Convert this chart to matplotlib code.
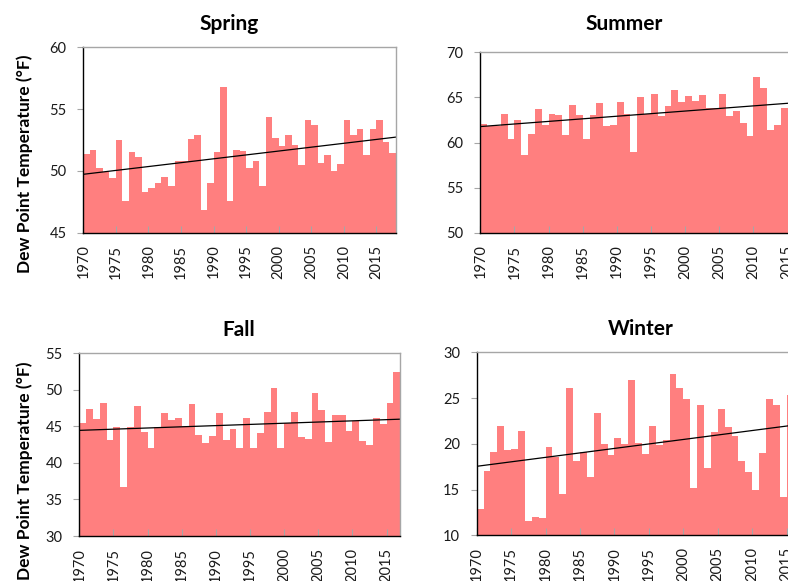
import matplotlib
matplotlib.use("Agg")
import matplotlib.pyplot as plt
import numpy as np

plt.rcParams['font.family'] = ['Lato', 'DejaVu Sans']

# seasonal dew point averages (deg F)
spring_years = list(range(1970, 2018))
spring = [51.4, 51.7, 50.2, 49.9, 49.4, 52.5, 47.6, 51.5, 51.1, 48.3,
          48.6, 49.0, 49.5, 48.75, 50.8, 50.8, 52.55, 52.9, 46.8, 49.0,
          51.5, 56.8, 47.6, 51.7, 51.6, 50.2, 50.8, 48.75, 54.4, 52.7,
          52.0, 52.9, 52.1, 50.5, 54.1, 53.7, 50.6, 51.3, 50.0, 50.55,
          54.1, 52.9, 53.4, 51.3, 53.4, 54.1, 52.3, 51.45]

summer_years = list(range(1970, 2016))
summer = [62.0, 61.8, 61.8, 63.2, 60.35, 62.45, 58.65, 60.9, 63.75, 61.95,
          63.2, 63.0, 60.85, 64.2, 63.1, 60.4, 63.1, 64.4, 61.8, 61.9,
          64.45, 63.2, 58.95, 65.05, 63.2, 65.35, 62.97, 64.08, 65.85, 64.5,
          65.15, 64.6, 65.27, 63.8, 63.8, 65.34, 62.97, 63.45, 62.2, 60.7,
          67.3, 66.05, 61.35, 61.9, 63.85, 63.75]

fall_years = list(range(1970, 2017))
fall = [45.5, 47.4, 46.0, 48.2, 43.1, 44.9, 36.7, 44.9, 47.75, 44.2,
        42.1, 44.9, 46.8, 45.9, 46.15, 45.0, 48.0, 43.8, 42.7, 43.7,
        46.8, 43.2, 44.6, 42.1, 46.1, 42.0, 44.05, 46.9, 50.3, 42.0,
        45.5, 46.9, 43.5, 43.3, 49.6, 47.25, 42.85, 46.55, 46.5, 44.4,
        45.7, 43.0, 42.5, 46.1, 45.3, 48.15, 52.5]

winter_years = list(range(1970, 2016))
winter = [12.9, 17.0, 19.1, 21.9, 19.35, 19.4, 21.4, 11.55, 11.95, 11.9,
          19.6, 18.6, 14.5, 26.1, 18.1, 19.05, 16.35, 23.35, 19.95, 18.8,
          20.65, 19.95, 27.0, 20.1, 18.85, 21.9, 19.9, 20.45, 27.6, 26.05,
          24.85, 15.2, 24.25, 17.4, 21.3, 23.8, 21.8, 20.9, 18.15, 16.95,
          14.9, 19.0, 24.85, 24.2, 14.15, 25.3]

W, H = 788.0, 581.0
bar_color = '#FF7F7F'
frame_gray = '#A6A6A6'
tick_years = list(range(1970, 2020, 5))

fig = plt.figure(figsize=(W / 100, H / 100), dpi=100)


def season_panel(left, top, right, bottom, years, vals, ylim, yticks, xmax):
    ax = fig.add_axes([left / W, 1 - bottom / H, (right - left) / W, (bottom - top) / H])
    x = np.array(years)
    y = np.array(vals)
    ax.bar(x, y - ylim[0], bottom=ylim[0], width=1.0, align='edge',
           color=bar_color, linewidth=0)
    # linear trend through the yearly values
    k, b = np.polyfit(x + 0.5, y, 1)
    xt = np.array([1970, xmax])
    ax.plot(xt, k * xt + b, color='black', lw=0.9)
    ax.set_xlim(1970, xmax)
    ax.set_ylim(*ylim)
    ax.set_yticks(yticks)
    ax.set_xticks(tick_years)
    ax.set_xticklabels([str(t) for t in tick_years], rotation=90)
    ax.tick_params(axis='x', direction='in', length=5, color=frame_gray,
                   labelsize=10.5, pad=8.5, labelcolor='#1a1a1a')
    ax.tick_params(axis='y', direction='out', length=4, color=frame_gray,
                   labelsize=10.5, pad=8, labelcolor='#1a1a1a')
    ax.spines['left'].set_color('black')
    ax.spines['bottom'].set_color('black')
    ax.spines['top'].set_color(frame_gray)
    ax.spines['right'].set_color(frame_gray)
    for s in ax.spines.values():
        s.set_linewidth(1.0)
    return ax


season_panel(83.3, 47.3, 396, 232.7, spring_years, spring, (45, 60), [45, 50, 55, 60], 2018)
season_panel(480.3, 52.3, 808, 232.7, summer_years, summer, (50, 70), [50, 55, 60, 65, 70], 2018)
season_panel(79.3, 353.3, 400.3, 536, fall_years, fall, (30, 55), [30, 35, 40, 45, 50, 55], 2017)
season_panel(476.7, 352.3, 800.5, 535.3, winter_years, winter, (10, 30), [10, 15, 20, 25, 30], 2017)

# panel titles
for name, cx, by in [('Spring', 229, 30), ('Summer', 624, 30),
                     ('Fall', 239, 336), ('Winter', 641, 335)]:
    fig.text(cx / W, 1 - by / H, name, ha='center', va='baseline',
             fontsize=15, fontweight='bold')

ylab = 'Dew Point Temperature (°F)'
fig.text(25 / W, 1 - 163.5 / H, ylab, rotation=90, ha='center', va='center',
         fontsize=12.5, fontweight='bold')
fig.text(25 / W, 1 - 470.5 / H, ylab, rotation=90, ha='center', va='center',
         fontsize=12.5, fontweight='bold')

fig.savefig('out.png', dpi=100)
